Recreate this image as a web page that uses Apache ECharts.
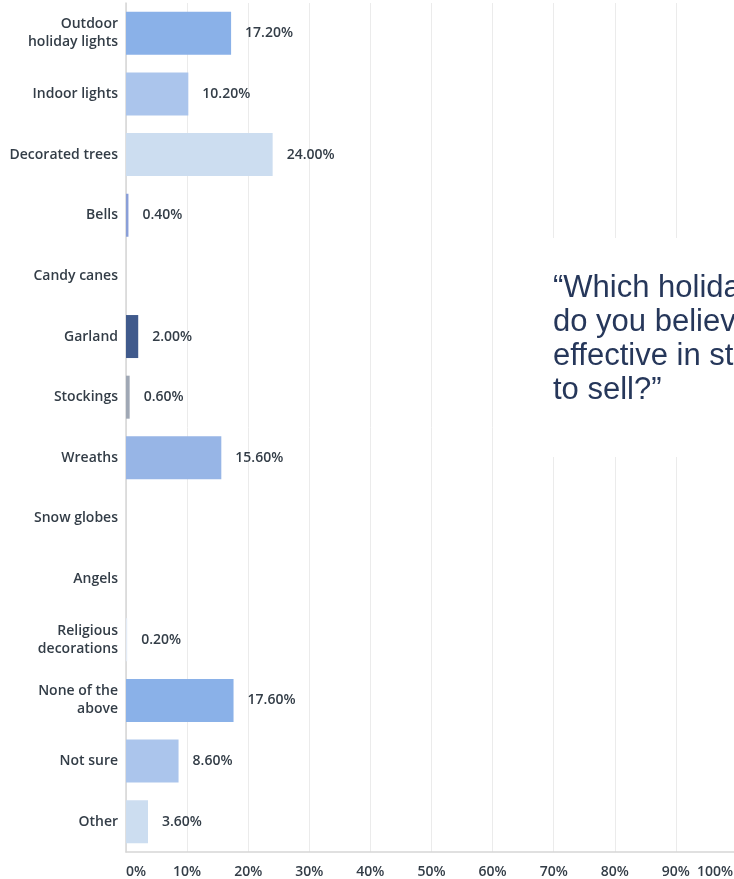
<!DOCTYPE html>
<html>
<head>
<meta charset="utf-8">
<title>Holiday decorations</title>
<script src="https://cdn.jsdelivr.net/npm/echarts@6/dist/echarts.min.js"></script>
<style>
  html, body { margin: 0; padding: 0; background: #ffffff; }
  #chart { width: 734px; height: 879px; }
</style>
</head>
<body>
<div id="chart"></div>
<script>
// Answer options, top to bottom
const categories = [
  'Outdoor\nholiday lights', 'Indoor lights', 'Decorated trees', 'Bells',
  'Candy canes', 'Garland', 'Stockings', 'Wreaths', 'Snow globes', 'Angels',
  'Religious\ndecorations', 'None of the\nabove', 'Not sure', 'Other'
];
// Share of respondents (%)
const values = [17.2, 10.2, 24.0, 0.4, 0, 2.0, 0.6, 15.6, 0, 0, 0.2, 17.6, 8.6, 3.6];
// Bar fill per option
const barColors = [
  '#8ab1e8', '#abc5ec', '#ccddf0', '#8a9fd8', '#8ab1e8', '#405a8c', '#a0a8b5',
  '#97b5e6', '#8ab1e8', '#8ab1e8', '#e3ebf6', '#8ab1e8', '#abc5ec', '#ccddf0'
];
// Question text shown in the panel
const questionLines = [
  '\u201cWhich holiday decorations',
  'do you believe are most',
  'effective in staging a home',
  'to sell?\u201d'
];

const labelFont = '"Open Sans", "Noto Sans", sans-serif';
const ink = '#333d47';

const chart = echarts.init(document.getElementById('chart'), null, { renderer: 'canvas' });

chart.setOption({
  animation: false,
  backgroundColor: '#ffffff',
  grid: {
    left: 126, top: 3, width: 611, height: 849,
    containLabel: false,
    outerBoundsMode: 'none'
  },
  xAxis: {
    type: 'value',
    min: 0,
    max: 100,
    interval: 10,
    axisLine: { show: true, lineStyle: { color: '#d6d6d6', width: 1.5 } },
    axisTick: { show: false },
    splitLine: { show: true, lineStyle: { color: '#ebebeb', width: 1 } },
    axisLabel: {
      // the last tick label is pulled in so it stays inside the canvas
      formatter: v => (v === 100 ? '{last|' + v + '%}' : v + '%'),
      rich: { last: { padding: [0, 4, 0, 0] } },
      color: ink,
      fontFamily: labelFont,
      fontWeight: 600,
      fontSize: 14,
      margin: 13,
      alignMinLabel: 'left',
      alignMaxLabel: 'right'
    }
  },
  yAxis: {
    type: 'category',
    inverse: true,
    data: categories,
    axisLine: { show: true, lineStyle: { color: '#d6d6d6', width: 1.5 } },
    axisTick: { show: false },
    axisLabel: {
      color: ink,
      fontFamily: labelFont,
      fontWeight: 600,
      fontSize: 14,
      lineHeight: 18,
      margin: 8,
      align: 'right'
    }
  },
  series: [{
    type: 'bar',
    barWidth: 43,
    data: values.map((v, i) => ({ value: v, itemStyle: { color: barColors[i] } })),
    label: {
      show: true,
      position: 'right',
      distance: 14,
      color: ink,
      fontFamily: labelFont,
      fontWeight: 600,
      fontSize: 14,
      formatter: p => (p.value > 0 ? p.value.toFixed(2) + '%' : '')
    }
  }],
  graphic: [
    {
      type: 'rect',
      z: 100,
      shape: { x: 540, y: 238, width: 220, height: 219 },
      style: { fill: '#ffffff' }
    },
    {
      type: 'text',
      z: 101,
      x: 553,
      y: 271,
      style: {
        text: questionLines.join('\n'),
        font: '31px "Liberation Sans", Arial, sans-serif',
        lineHeight: 34,
        fill: '#26375a',
        textVerticalAlign: 'top'
      }
    }
  ]
});
</script>
</body>
</html>
